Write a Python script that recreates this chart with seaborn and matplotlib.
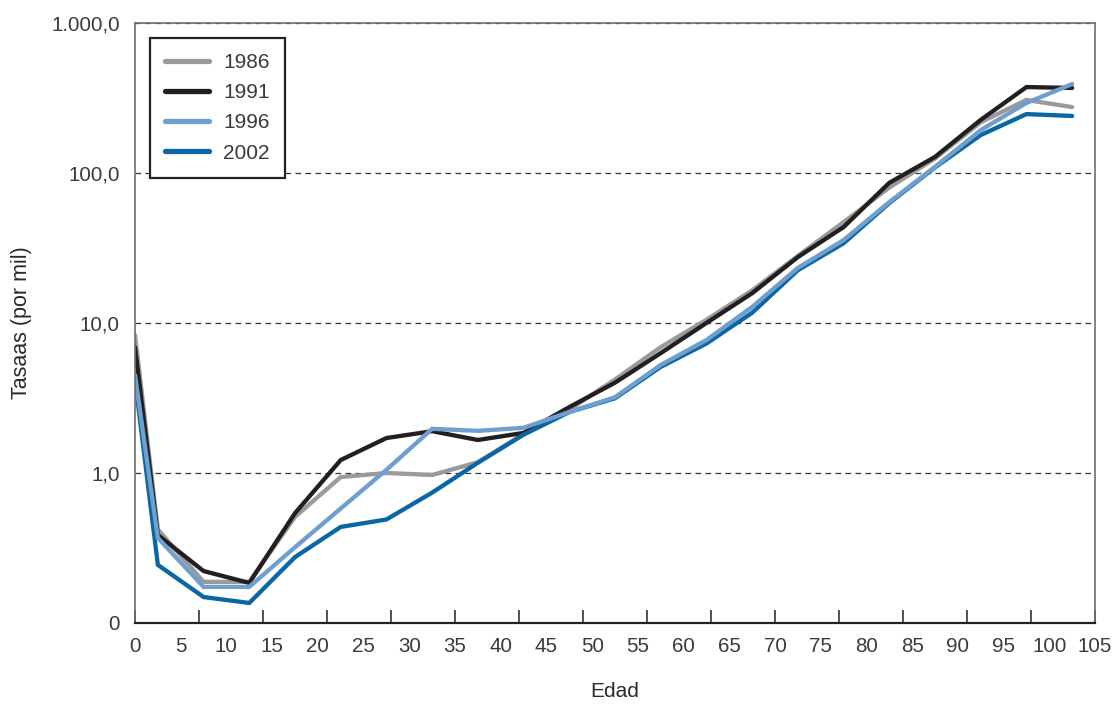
import matplotlib
matplotlib.use("Agg")
import matplotlib.pyplot as plt
import seaborn as sns
import pandas as pd
import numpy as np

# Age-group midpoints (years)
ages = [0, 2.5, 7.5, 12.5, 17.5, 22.5, 27.5, 32.5, 37.5, 42.5, 47.5,
        52.5, 57.5, 62.5, 67.5, 72.5, 77.5, 82.5, 87.5, 92.5, 97.5, 102.5]

# Mortality rates per thousand, by census year
rates_1986 = [8.3, 0.42, 0.188, 0.188, 0.51, 0.94, 1.0, 0.97, 1.18, 1.82, 2.65,
              4.2, 6.9, 10.5, 16.5, 28, 47, 80, 125, 218, 307, 275]
rates_1991 = [6.9, 0.386, 0.222, 0.185, 0.54, 1.22, 1.71, 1.9, 1.66, 1.85, 2.75,
              4.0, 6.3, 10.0, 15.8, 27.5, 43.6, 86, 128, 226, 374, 369]
rates_1996 = [4.5, 0.369, 0.174, 0.174, 0.32, 0.58, 1.05, 1.97, 1.91, 2.0, 2.55,
              3.2, 5.25, 7.7, 12.8, 23.3, 35.7, 64, 110, 193, 293, 392]
rates_2002 = [4.2, 0.244, 0.149, 0.136, 0.275, 0.437, 0.49, 0.74, 1.17, 1.8, 2.55,
              3.15, 5.1, 7.3, 11.7, 22.5, 34, 63, 109, 179, 247, 240]

years = ["1986", "1991", "1996", "2002"]
series = [rates_1986, rates_1991, rates_1996, rates_2002]
palette = {"1986": "#9a9a9b", "1991": "#231f20", "1996": "#6f9fce", "2002": "#0a67a3"}

y_ticks = [0.1, 1, 10, 100, 1000]
y_labels = ["0", "1,0", "10,0", "100,0", "1.000,0"]
x_labels = list(range(0, 106, 5))
x_marks = list(range(0, 106, 7))

df = pd.DataFrame({
    "Edad": np.tile(ages, len(years)),
    "Tasa": np.concatenate(series),
    "Año": np.repeat(years, len(ages)),
})

sns.set_style("white")
plt.rcParams["font.family"] = ["Liberation Sans", "DejaVu Sans"]

fig = plt.figure(figsize=(11.17, 7.26), dpi=100)
ax = fig.add_axes([135 / 1117, 1 - 623 / 726, 960 / 1117, 600 / 726])

sns.lineplot(data=df, x="Edad", y="Tasa", hue="Año", hue_order=years,
             palette=palette, linewidth=3.1, ax=ax, legend=False,
             solid_capstyle="round", solid_joinstyle="miter")

# 1996 line sits on top of the others
zorders = {"1986": 2.0, "1991": 2.1, "1996": 2.3, "2002": 2.2}
for line, yr in zip(ax.lines, years):
    line.set_zorder(zorders[yr])

ax.set_yscale("log")
ax.set_ylim(0.1, 1000)
ax.set_xlim(0, 105)

ax.yaxis.set_major_locator(matplotlib.ticker.FixedLocator(y_ticks))
ax.yaxis.set_minor_locator(matplotlib.ticker.NullLocator())
ax.set_yticklabels(y_labels)
ax.tick_params(axis="y", which="major", length=0, pad=11,
               labelsize=14.8, labelcolor="#3a3a3a")

# x: labels every 5 years, tick marks every 7 units pointing inward
ax.xaxis.remove_overlapping_locs = False
ax.set_xticks(x_labels)
ax.set_xticklabels([str(v) for v in x_labels])
ax.set_xticks(x_marks, minor=True)
ax.tick_params(axis="x", which="major", length=0, pad=10,
               labelsize=14.8, labelcolor="#3a3a3a")
ax.tick_params(axis="x", which="minor", direction="in", length=9.5,
               width=1.1, color="#222222", bottom=True)

ax.grid(False)
ax.yaxis.grid(True, which="major", linestyle=(0, (4.5, 3.5)),
              color="#333333", linewidth=0.9)

for side in ["left", "right", "top"]:
    ax.spines[side].set_visible(True)
    ax.spines[side].set_color("#6e6e6e")
    ax.spines[side].set_linewidth(1.2)
ax.spines["bottom"].set_color("#222222")
ax.spines["bottom"].set_linewidth(1.6)

ax.set_xlabel("Edad", fontsize=15, color="#2a2a2a", labelpad=19)
ax.set_ylabel("Tasaas (por mil)", fontsize=15.5, color="#2a2a2a", labelpad=14)

handles = [matplotlib.lines.Line2D([], [], color=palette[y], linewidth=3.8,
                                   solid_capstyle="round") for y in years]
leg = ax.legend(handles, years, loc="upper left",
                bbox_to_anchor=(15 / 960, (623 - 38) / 600), borderaxespad=0,
                frameon=True, fancybox=False, fontsize=15, handlelength=2.1,
                handletextpad=0.7, labelspacing=0.54, borderpad=0.72)
frame = leg.get_frame()
frame.set_edgecolor("#222222")
frame.set_linewidth(1.6)
frame.set_facecolor("white")
frame.set_alpha(1)
for t in leg.get_texts():
    t.set_color("#3a3a3a")

fig.savefig("out.png", dpi=100, facecolor="white")
